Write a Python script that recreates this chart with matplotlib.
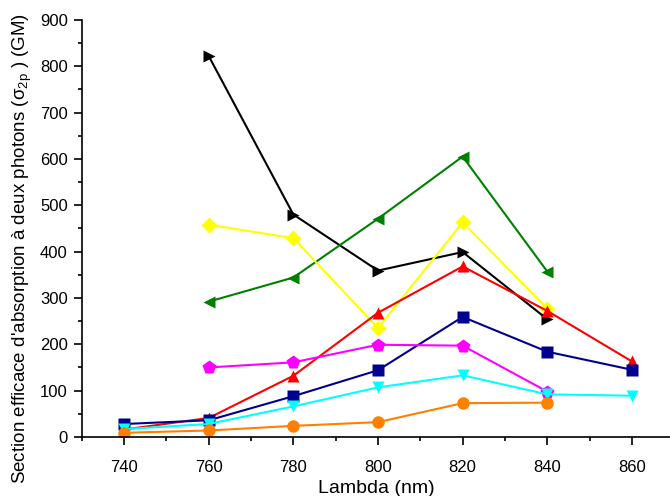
import matplotlib
matplotlib.use("Agg")
import matplotlib.pyplot as plt
from matplotlib.ticker import MultipleLocator

plt.rcParams["font.family"] = ["Liberation Sans", "DejaVu Sans"]
plt.rcParams["mathtext.fontset"] = "custom"
plt.rcParams["mathtext.rm"] = "Liberation Sans"
plt.rcParams["mathtext.it"] = "Liberation Sans"

# wavelengths (nm)
lam_full = [740, 760, 780, 800, 820, 840, 860]
lam_760_840 = [760, 780, 800, 820, 840]
lam_740_840 = [740, 760, 780, 800, 820, 840]

# cross sections (GM)
black = [822, 480, 359, 399, 254]
green = [292, 344, 471, 605, 357]
yellow = [458, 429, 235, 463, 277]
red = [16, 41, 132, 268, 368, 272, 163]
blue = [28, 36, 88, 144, 259, 184, 145]
magenta = [150, 161, 199, 197, 98]
cyan = [17, 28, 66, 107, 133, 92, 89]
orange = [9, 14, 24, 32, 73, 74]

fig = plt.figure(figsize=(6.7, 4.96), dpi=100)
ax = fig.add_axes([0.122, 0.119, 0.878, 0.841])

kw = dict(lw=1.5, ms=9, mec="none")
ax.plot(lam_760_840, black, color="black", marker=">", **kw)
ax.plot(lam_760_840, green, color="#008000", marker="<", **kw)
ax.plot(lam_760_840, yellow, color="#FFFF00", marker="D", lw=1.5, ms=8, mec="none")
ax.plot(lam_full, red, color="#FF0000", marker="^", **kw)
ax.plot(lam_full, blue, color="#000090", marker="s", lw=1.5, ms=8, mec="none")
ax.plot(lam_760_840, magenta, color="#FF00FF", marker="p", lw=1.5, ms=10, mec="none")
ax.plot(lam_full, cyan, color="#00FFFF", marker="v", **kw)
ax.plot(lam_740_840, orange, color="#FF8000", marker="o", **kw)

ax.set_xlim(730, 869)
ax.set_ylim(0, 900)
ax.xaxis.set_major_locator(MultipleLocator(20))
ax.xaxis.set_minor_locator(MultipleLocator(10))
ax.yaxis.set_major_locator(MultipleLocator(100))
ax.yaxis.set_minor_locator(MultipleLocator(50))
ax.spines["top"].set_visible(False)
ax.spines["right"].set_visible(False)
for s in ("left", "bottom"):
    ax.spines[s].set_linewidth(1.2)
ax.tick_params(which="major", direction="out", length=6, width=1.2, labelsize=12)
ax.tick_params(which="minor", direction="out", length=3, width=1.2)
ax.tick_params(axis="x", which="major", pad=10.5)
ax.tick_params(axis="y", which="major", pad=4)

ax.set_xlabel("Lambda (nm)", fontsize=14, labelpad=3.5)
ax.set_ylabel("Section efficace d'absorption à deux photons (σ$_{2p}$ ) (GM)",
              fontsize=13.5, labelpad=4, y=0.453)

fig.savefig("out.png", dpi=100)
